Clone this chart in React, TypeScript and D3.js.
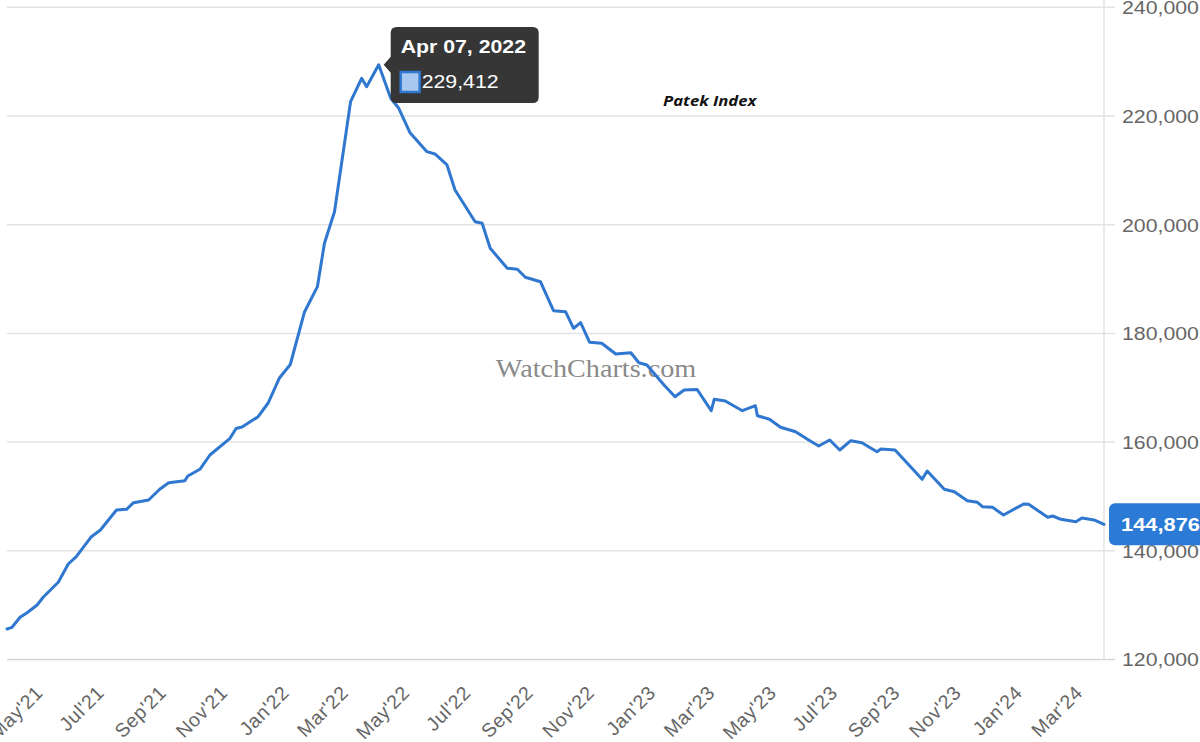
import React from "react";
import * as d3 from "d3";

const dates = [
  "2021-04-02","2021-04-07","2021-04-15","2021-04-22","2021-05-02","2021-05-08","2021-05-23","2021-06-02",
  "2021-06-10","2021-06-25","2021-07-04","2021-07-20","2021-07-30","2021-08-06","2021-08-21","2021-09-01",
  "2021-09-10","2021-09-26","2021-09-29","2021-10-11","2021-10-21","2021-11-10","2021-11-16","2021-11-22",
  "2021-12-08","2021-12-18","2021-12-29","2022-01-09","2022-01-23","2022-02-05","2022-02-12","2022-02-22",
  "2022-03-10","2022-03-21","2022-03-26","2022-04-07","2022-04-19","2022-04-27","2022-05-08","2022-05-25",
  "2022-06-02","2022-06-14","2022-06-22","2022-07-12","2022-07-19","2022-07-27","2022-08-13","2022-08-23",
  "2022-08-31","2022-09-15","2022-09-28","2022-10-10","2022-10-18","2022-10-25","2022-11-03","2022-11-15",
  "2022-11-29","2022-12-14","2022-12-22","2022-12-30","2023-01-16","2023-01-27","2023-02-05","2023-02-18",
  "2023-03-04","2023-03-07","2023-03-18","2023-04-04","2023-04-17","2023-04-19","2023-05-01","2023-05-12",
  "2023-05-27","2023-06-09","2023-06-19","2023-06-30","2023-07-10","2023-07-21","2023-08-01","2023-08-16",
  "2023-08-20","2023-09-03","2023-09-30","2023-10-05","2023-10-22","2023-11-01","2023-11-14","2023-11-24",
  "2023-11-29","2023-12-09","2023-12-20","2024-01-09","2024-01-14","2024-02-02","2024-02-07","2024-02-15",
  "2024-03-01","2024-03-07","2024-03-19","2024-03-29",
];

const values = [
  125612,125925,127765,128611,130028,131445,134205,137572,
  138915,142595,143828,147508,147637,148851,149348,151317,
  152531,152899,153764,154997,157628,160701,162504,162780,
  164675,167196,171741,174280,183885,188595,196581,202395,
  222635,226941,225395,229412,223261,221421,216968,213435,
  213012,210988,206388,200555,200261,195661,191981,191797,
  190325,189515,184179,183995,180941,181971,178365,178181,
  176212,176451,174611,174188,170508,168355,169588,169680,
  165779,167877,167564,165779,166699,164859,164197,162725,
  161915,160388,159284,160388,158548,160259,159891,158235,
  158732,158548,153157,154684,151317,150875,149219,148925,
  148115,148005,146588,148612,148557,146165,146404,145797,
  145355,146036,145668,144876,
];

const yTicks = [120000, 140000, 160000, 180000, 200000, 220000, 240000];

const xTickDates = [
  "2021-05-01","2021-07-01","2021-09-01","2021-11-01","2022-01-01","2022-03-01",
  "2022-05-01","2022-07-01","2022-09-01","2022-11-01","2023-01-01","2023-03-01",
  "2023-05-01","2023-07-01","2023-09-01","2023-11-01","2024-01-01","2024-03-01",
];
const xTickLabels = [
  "May'21","Jul'21","Sep'21","Nov'21","Jan'22","Mar'22",
  "May'22","Jul'22","Sep'22","Nov'22","Jan'23","Mar'23",
  "May'23","Jul'23","Sep'23","Nov'23","Jan'24","Mar'24",
];

const seriesName = "Patek Index";
const watermark = "WatchCharts.com";
const tooltipDate = "Apr 07, 2022";
const tooltipIndex = 35;

const W = 1200;
const H = 742;
const SX = 1.15; // horizontal stretch of the reference text
const FONT = "'Liberation Sans', Arial, Helvetica, sans-serif";

export default function App() {
  const parse = d3.timeParse("%Y-%m-%d");
  const pts = dates.map((d, i) => ({ date: parse(d) as Date, value: values[i] }));
  const plotLeft = 7;
  const plotRight = 1104;
  const plotTop = 7.3;
  const plotBottom = 659.5;

  const x = d3
    .scaleTime()
    .domain([pts[0].date, pts[pts.length - 1].date])
    .range([plotLeft, plotRight]);
  const y = d3.scaleLinear().domain([120000, 240000]).range([plotBottom, plotTop]);

  const line = d3
    .line<{ date: Date; value: number }>()
    .x((d) => x(d.date))
    .y((d) => y(d.value))
    .curve(d3.curveLinear);

  const fmt = d3.format(",");
  const peak = pts[tooltipIndex];
  const px = x(peak.date);
  const py = y(peak.value);
  const last = pts[pts.length - 1];
  const ly = y(last.value);

  const tipX = px + 12;
  const tipY = 27;
  const tipW = 148;
  const tipH = 76;

  const st = (tx: number, ty: number) => `translate(${tx},${ty}) scale(${SX},1)`;

  return (
    <svg
      width={W}
      height={H}
      style={{ position: "absolute", left: 0, top: 0, background: "#fff" }}
      fontFamily={FONT}
    >
      <rect x={0} y={0} width={W} height={H} fill="#fff" />
      {/* grid lines */}
      {yTicks.map((t) => (
        <g key={t}>
          <line
            x1={plotLeft}
            x2={plotRight + 11}
            y1={y(t)}
            y2={y(t)}
            stroke={t === 120000 ? "#d6d6d6" : "#e3e3e3"}
            strokeWidth={1.5}
          />
          <text transform={st(1122, y(t) + 6.8)} fontSize={18.5} fill="#666">
            {fmt(t)}
          </text>
        </g>
      ))}
      {/* right axis line */}
      <line x1={plotRight} x2={plotRight} y1={0} y2={plotBottom} stroke="#e3e3e3" strokeWidth={1.5} />

      {/* watermark */}
      <text
        transform={st(596, 376.5)}
        textAnchor="middle"
        fontFamily="'Liberation Serif', 'Times New Roman', serif"
        fontSize={24.5}
        fill="#8a8a8a"
      >
        {watermark}
      </text>

      {/* series name */}
      <text
        transform={st(663, 106)}
        fontFamily="'Open Sans', 'Noto Sans', sans-serif"
        fontWeight="bold"
        fontStyle="italic"
        fontSize={14.5}
        fill="#111"
      >
        {seriesName}
      </text>

      {/* line */}
      <path
        d={line(pts) || ""}
        fill="none"
        stroke="#2f77cf"
        strokeWidth={3}
        strokeLinejoin="round"
        strokeLinecap="round"
      />

      {/* x labels */}
      {xTickDates.map((d, i) => {
        const tx = x(parse(d) as Date);
        return (
          <text
            key={d}
            transform={`translate(${tx + 8},${694}) rotate(-45)`}
            textAnchor="end"
            fontSize={19.5}
            letterSpacing={0.6}
            fill="#666"
          >
            {xTickLabels[i]}
          </text>
        );
      })}

      {/* last value label */}
      <rect x={1109} y={ly - 21} width={110} height={42} rx={6} fill="#2b7bd6" />
      <text transform={st(1121, ly + 7)} fontSize={19} fontWeight="bold" fill="#fff">
        {fmt(last.value)}
      </text>

      {/* tooltip */}
      <g>
        <path
          d={`M${tipX + 6},${tipY} H${tipX + tipW - 6} Q${tipX + tipW},${tipY} ${tipX + tipW},${tipY + 6} V${tipY + tipH - 6} Q${tipX + tipW},${tipY + tipH} ${tipX + tipW - 6},${tipY + tipH} H${tipX + 6} Q${tipX},${tipY + tipH} ${tipX},${tipY + tipH - 6} V${py + 8} L${px + 5},${py} L${tipX},${py - 8} V${tipY + 6} Q${tipX},${tipY} ${tipX + 6},${tipY} Z`}
          fill="#2f2f2f"
          fillOpacity={0.97}
        />
        <text transform={st(tipX + 10, tipY + 26)} fontSize={18.5} fontWeight="bold" fill="#fff">
          {tooltipDate}
        </text>
        <rect x={tipX + 10} y={tipY + 45} width={19} height={20} fill="#a8c8f0" stroke="#2f77cf" strokeWidth={2.5} />
        <text transform={st(tipX + 31, tipY + 61)} fontSize={18.5} fill="#fff">
          {fmt(peak.value)}
        </text>
      </g>
    </svg>
  );
}
